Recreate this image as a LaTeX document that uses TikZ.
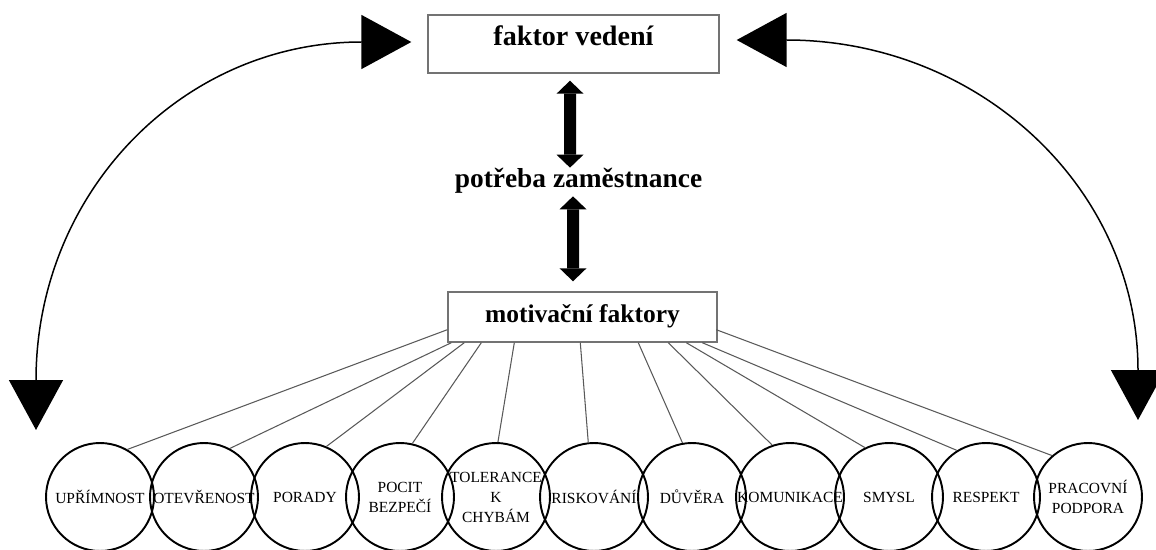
\documentclass[tikz,border=0pt]{standalone}
\usepackage{fontspec}
\setmainfont{Liberation Serif}
\usetikzlibrary{arrows.meta}

\tikzset{
  boxnode/.style={draw=black!55, line width=0.8pt, inner xsep=0pt, inner ysep=0pt, text height=0.62cm},
  factor/.style={circle, draw=black, line width=1.1pt, minimum size=2.16cm, inner sep=0pt},
  factxt/.style={align=center, inner sep=0pt, font=\fontsize{8.8}{11.4}\selectfont},
  spoke/.style={draw=black!65, line width=0.6pt},
  dblarr/.style={line width=0.24cm, arrows={Triangle[width=0.54cm,length=0.26cm,line width=0pt]-Triangle[width=0.54cm,length=0.26cm,line width=0pt]}},
  bigarr/.style={line width=0.03cm, arrows={Triangle[width=1.08cm,length=1cm]-Triangle[width=1.08cm,length=1cm]}}
}

\begin{document}
\begin{tikzpicture}[x=0.02cm, y=-0.02cm]
\useasboundingbox (0,0) rectangle (1156,550);
% ---- middle column
\node[boxnode, font=\fontsize{16}{19}\selectfont\bfseries, text depth=0.54cm, minimum width=5.82cm] (fv) at (573.5,44) {faktor vedení};
\node[font=\fontsize{15.6}{19}\selectfont\bfseries, inner sep=0pt, text height=0.4cm, text depth=0.1cm, anchor=base] (pz) at (578.5,188) {potřeba zaměstnance};
\node[boxnode, font=\fontsize{14.5}{17}\selectfont\bfseries, text depth=0.38cm, minimum width=5.38cm] (mf) at (582.5,317) {motivační faktory};
\draw[dblarr, shorten <=0.14cm] ([xshift=-0.07cm]fv.south) -- ([xshift=-0.17cm]pz.north);
\draw[dblarr, shorten <=0.06cm, shorten >=0.2cm] ([xshift=-0.11cm]pz.south) -- ([xshift=-0.19cm]mf.north);
% ---- side arcs
\coordinate (lend) at (36,430);
\coordinate (rend) at (1138,420);
\draw[bigarr, shorten <=0.32cm] ([yshift=0.04cm]fv.west) .. controls (182,42) and (36,193) .. (lend);
\draw[bigarr, shorten <=0.34cm] ([yshift=0.08cm]fv.east) .. controls (979,40) and (1138,188) .. (rend);
% ---- factor circles
\foreach \i/\x/\t in {1/100/UPŘÍMNOST, 2/204/OTEVŘENOST, 3/305/PORADY, 4/400/{POCIT\\BEZPEČÍ},
    5/496/{TOLERANCE\\K\\CHYBÁM}, 6/594/RISKOVÁNÍ, 7/692/DŮVĚRA, 8/790/KOMUNIKACE,
    9/889/SMYSL, 10/986/RESPEKT, 11/1088/{PRACOVNÍ\\PODPORA}}{
  \node[factor] (c\i) at (\x,497) {};
  \node[factxt] (t\i) at (c\i) {\t};
}
% ---- spokes
\foreach \i/\dx/\dy/\a in {1/0/0.26/60, 2/0.08/0/62, 3/0.34/0/67, 4/0.68/0/77, 5/1.34/0/88, 6/2.66/0/96,
    7/3.82/0/100, 8/4.42/0/109, 9/4.78/0/116, 10/5.10/0/122, 11/5.38/0.26/131}
  \draw[spoke] ([xshift=\dx cm, yshift=\dy cm]mf.south west) -- (c\i.\a);
\end{tikzpicture}
\end{document}
